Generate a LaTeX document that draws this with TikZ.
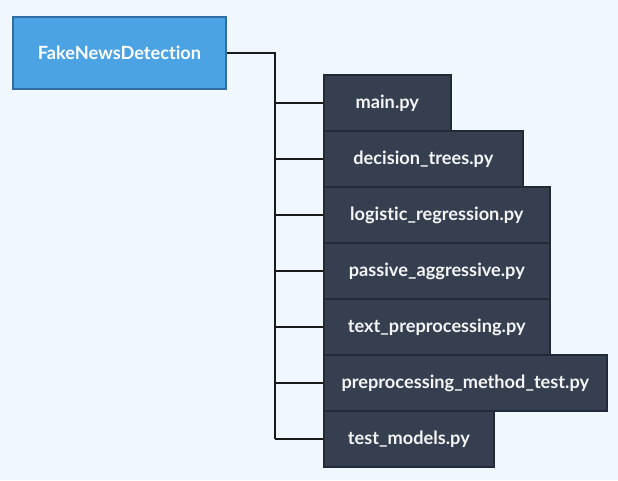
\documentclass[tikz,border=0pt]{standalone}
\usepackage{fontspec}
\setmainfont{Lato}[Ligatures=NoCommon]
\usepackage{xcolor}
\usepackage{tikz}
\usetikzlibrary{positioning}
\definecolor{pagebg}{HTML}{F0F7FE}
\definecolor{rootblue}{HTML}{4BA3E3}
\definecolor{rootedge}{HTML}{2F6EA5}
\definecolor{filebox}{HTML}{353F50}
\definecolor{fileedge}{HTML}{222A37}
\definecolor{wire}{HTML}{1A1A1A}
\tikzset{
  rootnode/.style={draw=rootedge, line width=1.6pt, fill=rootblue, minimum width=213pt,
                   minimum height=72pt, inner sep=0pt, text=white,
                   font=\fontsize{18.2}{21}\selectfont\bfseries},
  filenode/.style={draw=fileedge, line width=1.6pt, fill=filebox, minimum height=56pt,
                   inner sep=0pt, anchor=west, text=white!96!black,
                   font=\fontsize{18.2}{21}\selectfont\bfseries},
  branch/.style={wire, line width=2.4pt}
}

\begin{document}
\begin{tikzpicture}[x=1pt, y=-1pt]
    \fill[pagebg] (0,0) rectangle (618,480);
    \useasboundingbox (0,0) rectangle (618,480);
    \node[rootnode] (root) at (119.5,53) {FakeNewsDetection};
    \coordinate (trunk) at (275,53);
    \foreach \i/\w/\name in {0/127/main.py, 1/199/decision\_trees.py,
        2/226/logistic\_regression.py, 3/226/passive\_aggressive.py,
        4/226/text\_preprocessing.py, 5/283/preprocessing\_method\_test.py,
        6/170/test\_models.py}
      \node[filenode, minimum width=\w pt] (f\i) at (323,103+56*\i) {\name};
    \draw[branch] (root.east) -- (trunk) -- (trunk |- f6.west);
    \foreach \i in {0,...,6} \draw[branch] (trunk |- f\i.west) -- (f\i.west);
  \end{tikzpicture}
\end{document}
